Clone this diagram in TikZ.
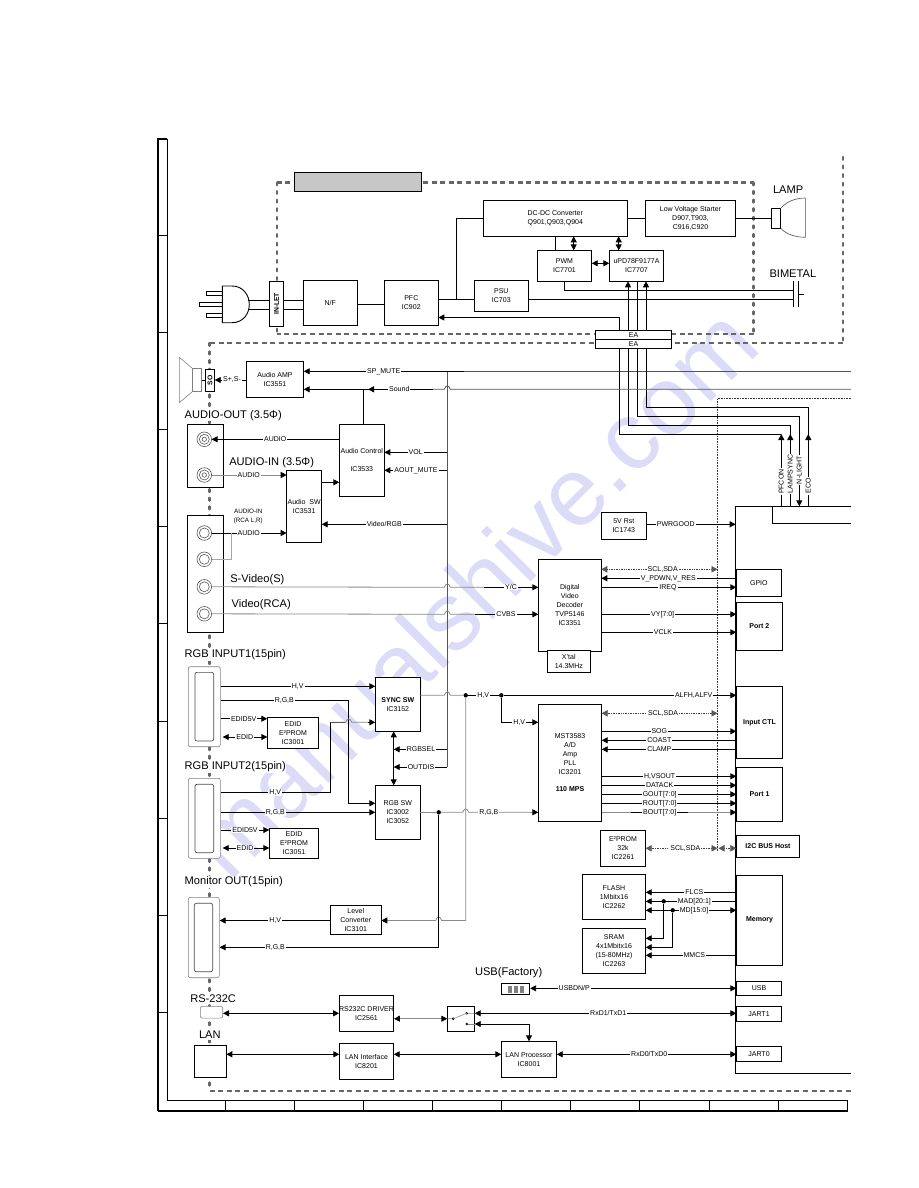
\documentclass[tikz,border=0pt]{standalone}
\usepackage{fontspec}
\setmainfont{Liberation Sans}
\usetikzlibrary{arrows.meta}
\newcounter{lc}
\definecolor{dashc}{HTML}{666666}
\definecolor{gl}{HTML}{8A8A8A}
\definecolor{gd}{HTML}{555555}
\definecolor{wm}{HTML}{DCDCF8}
\tikzset{
  tipk/.tip={Triangle[length=6pt,width=6pt,color=black]},
  blk/.style={draw,fill=white,line width=0.9pt,inner sep=0pt,outer sep=0pt,align=center,font=\fontsize{7}{9}\selectfont},
  lab/.style={fill=white,inner xsep=1pt,inner ysep=0.5pt,outer sep=0pt,font=\fontsize{7}{8}\selectfont},
  head/.style={anchor=west,fill=white,inner xsep=0pt,inner ysep=1pt,outer sep=0pt,font=\fontsize{11.1}{12}\selectfont},
  wire/.style={line width=0.9pt},
  gwire/.style={line width=0.8pt,draw=gl},
  dwire/.style={line width=0.8pt,draw=gd},
  ar/.style={line width=0.9pt,-tipk},
  ra/.style={line width=0.9pt,tipk-},
  da/.style={line width=0.9pt,tipk-tipk},
  gar/.style={ar,draw=gl},
  gra/.style={ra,draw=gl},
  gda/.style={da,draw=gl},
  dot/.style={line width=0.7pt,densely dotted,draw=black!75,{Triangle[length=6pt,width=6.5pt,color=black!65]}-{Triangle[length=6pt,width=6.5pt,color=black!65]}},
  thickdash/.style={line width=2.3pt,draw=dashc,dash pattern=on 5pt off 3.6pt},
  rounddash/.style={line width=2.3pt,draw=dashc,line cap=round,dash pattern=on 2.8pt off 5.8pt},
  jack/.style={circle,draw,gray!70!black,line width=0.6pt,minimum size=14.6pt,inner sep=0pt,outer sep=0pt},
  junc/.style={circle,fill=black,minimum size=4.4pt,inner sep=0pt,outer sep=0pt},
  conn/.style={draw=gray,fill=white,rounded corners=2pt,line width=0.6pt},
}
\newcommand{\bx}[6]{\node[blk,minimum width={(#4-#2)*1pt},minimum height={(#5-#3)*1pt}] (#1) at ({(#2+#4)/2},{(#3+#5)/2}) {#6};}
\newcommand{\lb}[3]{\stepcounter{lc}\node[lab] (lab\arabic{lc}) at (#1,#2) {#3};}
\newcommand{\hd}[3]{\stepcounter{lc}\node[head] (lab\arabic{lc}) at (#1,#2) {#3};}
\newcommand{\hcon}[4]{\draw[#1] (#2 |- 0,#4) -- (#3 |- 0,#4);}
\newcommand{\vcon}[4]{\draw[#1] (#2 -| #4,0) -- (#3 -| #4,0);}
\def\hop#1#2{-- (#1-3,#2) .. controls (#1-1.5,#2-4.5) and (#1+1.5,#2-4.5) .. (#1+3,#2)}
\begin{document}
\begin{tikzpicture}[x=1pt,y=-1pt]
\useasboundingbox (0,0) rectangle (918,1188);
\fill[white] (0,0) rectangle (918,1188);
% watermark
\node[wm,rotate=45,font=\fontsize{97}{97}\selectfont,inner sep=0pt] (wmark) at (472,592) {manualshive.com};
% frame
\draw[line width=1pt] (167,139) -- (167,1100) -- (847.5,1100);
\draw[line width=2pt] (157.5,1110.5) -- (157.5,139) -- (167,139);
\draw[line width=2pt] (157.5,1110.5) -- (847.5,1110.5);
\draw[line width=1pt] (847.5,1100) -- (847.5,1110.5);
\foreach \yy in {235,332,429,526.5,623,721,818,915,1012} \draw[line width=0.8pt] (157.5,\yy) -- (167,\yy);
\foreach \xx in {225,294,363,432,501.5,570.5,639,709,778} \draw[line width=0.8pt] (\xx,1100) -- (\xx,1110.5);
% dashed outlines
\draw[thickdash] (843,343) -- (209.5,343);
\draw[thickdash] (209.5,1091) -- (851,1091);
\draw[rounddash] (209.5,343) -- (209.5,1091);
\draw[rounddash] (843,157) -- (843,343);
\draw[thickdash] (276.7,182.5) -- (753.5,182.5);
\draw[rounddash] (753.5,182.5) -- (753.5,334);
\draw[thickdash] (753.5,334) -- (276.7,334);
\draw[rounddash] (276.7,182.5) -- (276.7,334);
% title box
\node[draw,fill=black!22,line width=0.9pt,minimum width=127.7pt,minimum height=19.4pt,inner sep=0pt] (title) at (357.8,182) {};
% dotted bus
\draw[line width=0.6pt,densely dotted,draw=black!80] (851,398.3) -- (717.5,398.3) -- (717.5,852);
% long wires
\draw[dwire] (851,371.3) -- (447.3,371.3);
\draw[dwire] (447.3,371.3) -- (447.3,767);
% plug
\draw[line width=0.9pt,fill=white] (206.3,291.3) rectangle (222.3,295.3);
\draw[line width=0.9pt,fill=white] (199.3,302) rectangle (222.3,306.3);
\draw[line width=0.9pt,fill=white] (206.3,313) rectangle (222.3,317);
\draw[line width=0.9pt,fill=white] (222.3,286) -- (232,286) .. controls (243,286) and (249.3,295) .. (249.3,304.3) .. controls (249.3,314) and (243,322.7) .. (232,322.7) -- (222.3,322.7) -- cycle;
\coordinate (plugA) at (248,300.3);
\coordinate (plugB) at (248,309.7);
% power blocks
\node[blk,minimum width=14.4pt,minimum height=45pt] (inlet) at (276.5,303.8) {};
\node[rotate=90,font=\bfseries\fontsize{6.8}{8}\selectfont,inner sep=0pt] (inlettxt) at (inlet.center) {IN-LET};
\bx{nf}{303.3}{280.3}{357.3}{325.3}{N/F}
\bx{pfc}{384.3}{280.3}{438.3}{325.3}{PFC\\IC902}
\bx{psu}{474.3}{280.3}{528.3}{311.3}{PSU\\IC703}
\bx{dcdc}{483.3}{200.7}{627.3}{236.3}{DC-DC Converter\\Q901,Q903,Q904}
\bx{lvs}{645.3}{200.7}{735.7}{236.3}{Low Voltage Starter\\D907,T903,\\C916,C920}
\bx{pwm}{537.3}{250.3}{591.7}{281.3}{PWM\\IC7701}
\bx{upd}{609.3}{250.3}{663.7}{281.3}{uPD78F9177A\\IC7707}
\bx{ea1}{595.3}{330.3}{671.7}{339.5}{EA}
\bx{ea2}{595.3}{339.5}{671.7}{348.3}{EA}
\draw[line width=1.6pt] (ea1.south west) -- (ea1.south east);
\draw[wire] (plugA) -- (plugA -| inlet.west);
\draw[wire] (plugB) -- (plugB -| inlet.west);
\hcon{wire}{inlet.east}{nf.west}{300.3}
\hcon{wire}{inlet.east}{nf.west}{309.7}
\hcon{wire}{nf.east}{pfc.west}{304.3}
\hcon{wire}{pfc.east}{psu.west}{299.3}
\draw[wire] (456.3,299.3) -- (456.3,218.3) -- (dcdc.west |- 0,218.3);
\hcon{wire}{dcdc.east}{lvs.west}{218.3}
\vcon{wire}{dcdc.south}{pwm.north}{555.3}
\vcon{da}{dcdc.south}{pwm.north}{573.7}
\vcon{da}{dcdc.south}{upd.north}{618.7}
\hcon{da}{pwm.east}{upd.west}{263.3}
\draw[ra] (pfc.east |- 0,317.5) -- (619,317.5) -- (ea1.north -| 619,0);
\vcon{ar}{ea1.north}{upd.south}{628}
\vcon{ar}{ea1.north}{upd.south}{646}
\vcon{wire}{ea1.north}{upd.south}{637}
% lamp
\node[blk,minimum width=9.4pt,minimum height=20pt] (lamp) at (776,218.3) {};
\hcon{wire}{lvs.east}{lamp.west}{218.3}
\draw[line width=0.6pt,draw=black!70] (lamp.north east) .. controls (786,202) and (795,198) .. (805.3,198) -- (805.3,237.3) .. controls (795,237.3) and (786,234) .. (lamp.south east);
\hd{773}{190}{LAMP}
\hd{769.5}{273.7}{BIMETAL}
% bimetal
\coordinate (bimA) at (793.7,294.3);
\coordinate (bimB) at (798.3,294.3);
\coordinate (bimC) at (804.3,294.3);
\draw[wire] (793.7,281.3) -- (793.7,307);
\draw[wire] (798.3,281.3) -- (798.3,307);
\draw[wire] (bimB) -- (bimC);
\draw[wire] (pwm.south -| 564.7,0) -- (564.7,290.3) -- (793.7,290.3);
\draw[wire] (psu.east |- 0,299.3) -- (793.7,299.3);
% MCU
\draw[line width=1pt] (851,506.3) -- (735.7,506.3) -- (735.7,1073.3) -- (851,1073.3);
\draw[line width=0.9pt] (772.3,506.3) -- (772.3,523.3) -- (851,523.3);
\coordinate (mcuA) at (781.3,506.3);
\coordinate (mcuB) at (790.3,506.3);
\coordinate (mcuC) at (799.3,506.3);
\coordinate (mcuD) at (808.3,506.3);
\draw[wire] (ea2.south -| 619,0) -- (619,434.3) -- (781.3,434.3);
\draw[wire] (ea2.south -| 628,0) -- (628,425.3) -- (790.3,425.3) -- (790.3,436);
\draw[ar] (ea2.south -| 637,0) -- (637,416.3) -- (799.3,416.3) -- (mcuC);
\draw[wire] (ea2.south -| 646,0) -- (646,407.3) -- (808.3,407.3) -- (808.3,436);
\draw[ar] (mcuA) -- (781.3,434);
\draw[ar] (mcuB) -- (790.3,434);
\draw[ar] (mcuD) -- (808.3,434);
\foreach \tx/\xx/\yy in {PFCON/781.3/481.7,LAMPSYNC/790.3/474,N-LIGHT/799.3/470,ECO/808.3/486}
  \node[lab,rotate=90] (rot\tx) at (\xx,\yy) {\tx};
% audio
\draw[draw=gray,line width=0.6pt] (179.3,357.3) -- (192.3,368.3) -- (192.3,391.7) -- (179.3,402.7) -- cycle;
\draw[draw=gray,line width=0.6pt] (192.3,368.3) rectangle (201.7,391.7);
\node[blk,minimum width=9.4pt,minimum height=22.4pt] (so) at (210,380.5) {};
\node[rotate=90,font=\bfseries\fontsize{6.8}{8}\selectfont,inner sep=0pt] (sotxt) at (so.center) {SO};
\draw[wire] (201.7,380) -- (so.west |- 0,380);
\bx{aamp}{246.3}{361.3}{303.7}{397.3}{Audio AMP\\IC3551}
\bx{actl}{339.3}{424.3}{384.3}{496.3}{Audio Control\\\\IC3533}
\bx{asw}{286.7}{470.3}{321.7}{542.3}{Audio\ \ SW\\IC3531}
\hcon{ar}{aamp.west}{so.east}{380}
\lb{232}{380}{S+,S-}
\hcon{ra}{aamp.east}{464,0}{371.3}
\lb{383.7}{371.3}{SP\_MUTE}
\draw[ra] (aamp.east |- 0,389.3) -- (433,389.3);
\draw[dwire] (433,389.3) \hop{447.3}{389.3} -- (851,389.3);
\draw[ra] (368,389.3) -- (433,389.3);
\draw[wire] (363.3,389.3) -- (actl.north -| 363.3,0);
\lb{399.3}{389.3}{Sound}
\draw[ra] (actl.east |- 0,452.3) -- (447.3,452.3);
\lb{415.7}{452.3}{VOL}
\draw[ra] (actl.east |- 0,470.3) -- (447.3,470.3);
\lb{416}{470.3}{AOUT\_MUTE}
\draw[ra] (asw.east |- 0,524.3) -- (447.3,524.3);
\lb{384.3}{524.3}{Video/RGB}
\hcon{ar}{asw.east}{actl.west}{482.3}
% jacks
\node[blk,minimum width=36.4pt,minimum height=63pt] (jbox1) at (205.5,455.8) {};
\node[blk,minimum width=36.4pt,minimum height=117pt] (jbox2) at (205.5,573.8) {};
\foreach \nn/\yy in {ja/439.3,jb/475,jc/533,jd/559.3,je/586.8,jf/613.8} {
  \node[jack] (\nn) at (204.3,\yy) {};
  \draw[gray!70!black,line width=0.6pt] (\nn.center) circle (5pt);
}
\draw[gray!70!black,line width=0.6pt] (ja.center) circle (2.2pt) (jb.center) circle (2.2pt);
\draw[ra] (ja.east) -- (actl.west |- ja.east);
\lb{275.3}{439.3}{AUDIO}
\draw[gar] (jb.east) -- (asw.west |- jb.east);
\lb{248.7}{475.3}{AUDIO}
\draw[ar] (jc.east) -- (asw.west |- jc.east);
\lb{248.7}{533}{AUDIO}
\draw[draw=gray!70,line width=0.7pt] (jd.east) -- (231.7,559.3) -- (231.7,533);
\draw[gwire] (je.east) -- (444.3,587.3) .. controls (445.8,582.8) and (448.8,582.8) .. (450.3,587.3) -- (484,587.3);
\draw[gwire] (jf.east) -- (444.3,614.3) .. controls (445.8,609.8) and (448.8,609.8) .. (450.3,614.3) -- (475,614.3);
\hd{184.7}{415.3}{AUDIO-OUT (3.5Φ)}
\hd{229.3}{462.3}{AUDIO-IN (3.5Φ)}
\node[font=\fontsize{6.3}{9.3}\selectfont,align=center,inner sep=0pt] (ainrca) at (248.3,516.3) {AUDIO-IN\\(RCA L,R)};
\hd{230.3}{579.3}{S-Video(S)}
\hd{231.7}{604.3}{Video(RCA)}
% video decoder
\bx{vdec}{538.3}{559.3}{601.3}{651.3}{Digital\\Video\\Decoder\\TVP5146\\IC3351}
\bx{xtal}{547.3}{650.3}{590.3}{672.3}{X'tal\\14.3MHz}
\bx{rst}{601.3}{512.3}{646.3}{539.3}{5V Rst\\IC1743}
\draw[ar] (484,587.3) -- (vdec.west |- 0,587.3);
\draw[ar] (475,614.3) -- (vdec.west |- 0,614.3);
\lb{511}{587.3}{Y/C}
\lb{506}{614.3}{CVBS}
\bx{gpio}{736.3}{569.3}{781.3}{596.3}{GPIO}
\bx{port2}{736.3}{602.3}{782.3}{650.3}{\textbf{Port 2}}
\bx{ictl}{736.3}{686.3}{782.7}{758.3}{\textbf{Input CTL}}
\bx{port1}{736.3}{767.3}{782.7}{821.3}{\textbf{Port 1}}
\bx{i2c}{736.3}{835.3}{799.7}{857.3}{\textbf{I2C BUS Host}}
\bx{mem}{736.3}{875.3}{782.7}{965.3}{\textbf{Memory}}
\bx{usb}{736.3}{981.3}{781.7}{995.3}{USB}
\bx{jart1}{736.3}{1006.3}{781.7}{1021.3}{JART1}
\bx{jart0}{736.3}{1046.3}{781.7}{1061.3}{JART0}
\hcon{ar}{rst.east}{735.7,0}{524.3}
\lb{675.7}{524.3}{PWRGOOD}
\draw[dot] (vdec.east |- 0,569.3) -- (717.5,569.3);
\lb{662.7}{569.3}{SCL,SDA}
\draw[ra] (vdec.east |- 0,578.3) -- (735.7,578.3);
\lb{668.3}{578.3}{V\_PDWN,V\_RES}
\hcon{ar}{vdec.east}{gpio.west}{587.3}
\lb{668}{587.3}{IREQ}
\hcon{ar}{vdec.east}{port2.west}{614.3}
\lb{662.7}{614.3}{VY[7:0]}
\hcon{ar}{vdec.east}{port2.west}{632.3}
\lb{663}{632.3}{VCLK}
% RGB input connectors
\node[conn,minimum width=32pt,minimum height=80pt,inner sep=0pt] (rgb1) at (204.3,706.7) {};
\node[draw,gray!60!black,rounded corners=2pt,line width=0.7pt,minimum width=18.7pt,minimum height=68.7pt,inner sep=0pt] (rgb1i) at (204.3,706.7) {};
\node[conn,minimum width=32pt,minimum height=80pt,inner sep=0pt] (rgb2) at (204.3,818.3) {};
\node[draw,gray!60!black,rounded corners=2pt,line width=0.7pt,minimum width=18.7pt,minimum height=68.4pt,inner sep=0pt] (rgb2i) at (204.3,818.5) {};
\node[conn,minimum width=31pt,minimum height=80.4pt,inner sep=0pt] (mon) at (203.8,937.5) {};
\node[draw,gray!60!black,rounded corners=2pt,line width=0.7pt,minimum width=18.4pt,minimum height=68.4pt,inner sep=0pt] (moni) at (203.5,937.5) {};
\hd{184.7}{655}{RGB INPUT1(15pin)}
\hd{184.7}{766.7}{RGB INPUT2(15pin)}
\hd{184.7}{882}{Monitor OUT(15pin)}
\bx{sync}{375.3}{677.3}{420.3}{731.3}{\textbf{SYNC SW}\\IC3152}
\bx{rgbsw}{375.3}{785.3}{420.3}{839.3}{RGB SW\\IC3002\\IC3052}
\bx{edid1}{267.3}{717.3}{318.7}{748.3}{EDID\\E²PROM\\IC3001}
\bx{edid2}{269.3}{828.3}{318.7}{858.3}{EDID\\E²PROM\\IC3051}
\bx{mst}{538.3}{704.3}{601.7}{821.3}{MST3583\\A/D\\Amp\\PLL\\IC3201\\[8pt]\textbf{110 MPS}}
\hcon{ar}{rgb1.east}{sync.west}{686.3}
\lb{297.7}{686.3}{H,V}
\draw[ar] (rgb1.east |- 0,700.3) -- (348.7,700.3) -- (348.7,803.3) -- (rgbsw.west |- 0,803.3);
\lb{284.3}{700.3}{R,G,B}
\hcon{ar}{rgb1.east}{edid1.west}{718.7}
\lb{243.7}{718.7}{EDID5V}
\draw[da] (222.7,737) -- (edid1.west |- 0,737);
\lb{244.7}{737}{EDID}
\draw[wire] (rgb2.east |- 0,792.3) -- (330.3,792.3) -- (330.3,722.3) -- (345,722.3);
\draw[gwire] (330.3,722.3) \hop{348.7}{722.3} -- (368,722.3);
\draw[ar] (368,722.3) -- (sync.west |- 0,722.3);
\lb{275.3}{792.3}{H,V}
\hcon{ar}{rgb2.east}{rgbsw.west}{812.3}
\lb{275.3}{812.3}{R,G,B}
\hcon{ar}{rgb2.east}{edid2.west}{830}
\lb{245}{830}{EDID5V}
\draw[da] (222.7,848) -- (edid2.west |- 0,848);
\lb{245}{848}{EDID}
\vcon{da}{sync.south}{rgbsw.north}{393.7}
\draw[ra] (393.7,749.3) -- (447.3,749.3);
\lb{421}{749.3}{RGBSEL}
\draw[ra] (393.7,767) -- (447.3,767);
\lb{421}{767}{OUTDIS}
% H,V and RGB distribution
\node[junc] (jn1) at (465.7,695.3) {};
\node[junc] (jn2) at (501.3,695.3) {};
\node[junc] (jn3) at (438.7,812.3) {};
\draw[gwire] (sync.east |- jn1) \hop{447.3}{695.3} -- (jn1);
\draw[wire] (jn1) -- (jn2);
\lb{483.3}{695.3}{H,V}
\draw[ar] (jn2) -- (ictl.west |- jn2);
\lb{693.7}{695.3}{ALFH,ALFV}
\draw[ar] (jn2) -- (501.3,722.3) -- (mst.west |- 0,722.3);
\lb{519.3}{722.3}{H,V}
\draw[gwire] (rgbsw.east |- jn3) -- (jn3);
\draw[gwire] (jn3) \hop{465.7}{812.3} -- (530,812.3);
\draw[gar] (530,812.3) -- (mst.west |- 0,812.3);
\lb{488.8}{812.3}{R,G,B}
\draw[gwire] (jn1) -- (465.7,920.5) -- (441.7,920.5) .. controls (440.2,916) and (437.2,916) .. (435.7,920.5);
\bx{lvl}{330.3}{905.3}{381.3}{934.3}{Level\\Converter\\IC3101}
\draw[gra] (lvl.east |- 0,920.5) -- (435.7,920.5);
\draw[ar] (jn3) -- (438.7,947.3) -- (mon.east |- 0,947.3);
\draw[ar] (lvl.west |- 0,920.5) -- (mon.east |- 0,920.5);
\lb{275.3}{920.5}{H,V}
\lb{275.3}{947.3}{R,G,B}
% MST wires
\draw[dot] (mst.east |- 0,713.3) -- (717.5,713.3);
\lb{663}{713.3}{SCL,SDA}
\hcon{ar}{mst.east}{ictl.west}{731.3}
\lb{659.3}{731.3}{SOG}
\draw[ra] (mst.east |- 0,740.3) -- (ictl.west |- 0,740.3);
\lb{659.3}{740.3}{COAST}
\draw[ra] (mst.east |- 0,749.3) -- (ictl.west |- 0,749.3);
\lb{659.3}{749.3}{CLAMP}
\hcon{ar}{mst.east}{port1.west}{776.3}
\lb{659.7}{776.3}{H,VSOUT}
\hcon{ar}{mst.east}{port1.west}{785.3}
\lb{659.7}{785.3}{DATACK}
\hcon{ar}{mst.east}{port1.west}{794.3}
\lb{659.7}{794.3}{GOUT[7:0]}
\hcon{ar}{mst.east}{port1.west}{803.3}
\lb{659.7}{803.3}{ROUT[7:0]}
\hcon{gar}{mst.east}{port1.west}{812.3}
\draw[wire] (631,812.3) -- (688,812.3);
\lb{659.7}{812.3}{BOUT[7:0]}
% memory side
\bx{e2p}{600.3}{830.3}{645.7}{866.3}{E²PROM\\32k\\IC2261}
\draw[dot] (e2p.east |- 0,848.3) -- (717.5,848.3);
\draw[dot] (718.5,848.3) -- (i2c.west |- 0,848.3);
\lb{685.3}{848.3}{SCL,SDA}
\bx{flash}{582.3}{874.3}{645.7}{919.3}{FLASH\\1Mbitx16\\IC2262}
\bx{sram}{582.3}{928.3}{645.7}{973.3}{SRAM\\4x1Mbitx16\\(15-80MHz)\\IC2263}
\draw[ra] (flash.east |- 0,892.3) -- (mem.west |- 0,892.3);
\lb{694.3}{892.3}{FLCS}
\draw[ra] (flash.east |- 0,901.3) -- (mem.west |- 0,901.3);
\lb{694.3}{901.3}{MAD[20:1]}
\hcon{da}{flash.east}{mem.west}{910.3}
\lb{694}{910.3}{MD[15:0]}
\node[junc] (jn4) at (663.7,901.3) {};
\node[junc] (jn5) at (672.7,910.3) {};
\draw[ar] (jn4) -- (663.7,938.3) -- (sram.east |- 0,938.3);
\draw[ar] (jn5) -- (672.7,947.3) -- (sram.east |- 0,947.3);
\draw[ra] (sram.east |- 0,955.3) -- (mem.west |- 0,955.3);
\lb{694.3}{955.3}{MMCS}
\hd{475}{972.3}{USB(Factory)}
\node[draw,fill=white,line width=0.9pt,minimum width=28pt,minimum height=11pt,inner sep=0pt] (usbc) at (515.7,988.8) {};
\foreach \xx in {507.7,514,520} \fill[gray] (\xx,985.7) rectangle +(4,7.3);
\hcon{da}{usbc.east}{usb.west}{988.3}
\lb{574.3}{988.3}{USBDN/P}
% bottom row
\hd{190.3}{998.3}{RS-232C}
\hd{199}{1035}{LAN}
\node[conn,minimum width=22.4pt,minimum height=11.7pt,inner sep=0pt] (rsc) at (211.5,1012.2) {};
\node[blk,minimum width=32pt,minimum height=32pt] (lanc) at (210.3,1061.3) {};
\bx{rsdrv}{339.3}{995.3}{393.7}{1031.3}{RS232C DRIVER\\IC2561}
\bx{lanif}{339.3}{1043.3}{393.7}{1079.3}{LAN Interface\\IC8201}
\bx{lanp}{501.3}{1041.3}{556.7}{1077.3}{LAN Processor\\IC8001}
\bx{swb}{447.3}{1006.3}{474.7}{1031.3}{}
\hcon{da}{rsc.east}{rsdrv.west}{1013.3}
\hcon{da}{lanc.east}{lanif.west}{1054.3}
\hcon{da}{lanif.east}{lanp.west}{1054.3}
\hcon{da}{lanp.east}{jart0.west}{1054.3}
\lb{649.3}{1054.3}{RxD0/TxD0}
\hcon{gda}{rsdrv.east}{swb.west}{1018.7}
\hcon{da}{swb.east}{jart1.west}{1013.3}
\lb{608.3}{1013.3}{RxD1/TxD1}
\draw[da] (swb.east |- 0,1024) -- (529,1024) -- (lanp.north -| 529,0);
\draw[gwire,line width=0.6pt] (swb.west |- 0,1018.7) -- (453.3,1018.7) -- (466.7,1013.3) -- (swb.east |- 0,1013.3);
\draw[gwire,line width=0.6pt] (466.7,1024) -- (swb.east |- 0,1024);
\foreach \xx/\yy in {453.3/1018.7,466.7/1013.3,466.7/1024} \draw[line width=0.5pt,fill=white] (\xx,\yy) circle (1pt);
\end{tikzpicture}
\end{document}
